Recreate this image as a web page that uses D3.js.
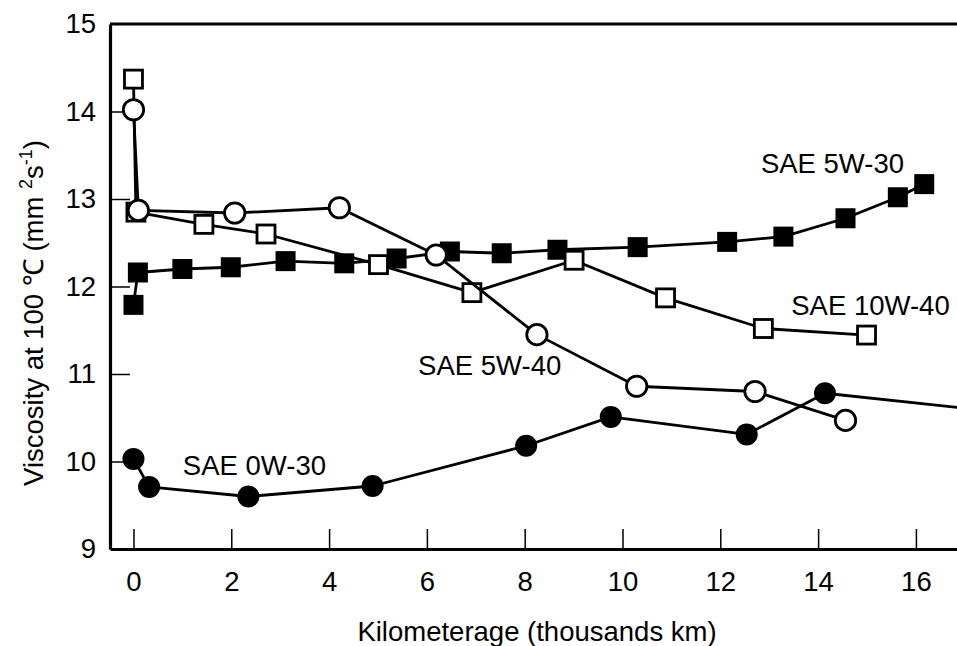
<!DOCTYPE html>
<html>
<head>
<meta charset="utf-8">
<script src="https://cdn.jsdelivr.net/npm/d3@7"></script>
<style>
  html, body { margin: 0; padding: 0; background: #fff; }
  svg { display: block; font-family: "Liberation Sans", Arial, Helvetica, sans-serif; }
</style>
</head>
<body>
<svg id="chart" width="957" height="646"></svg>
<script>
// ---- data (km in thousands, viscosity mm2/s) ----
const xTicks = [0, 2, 4, 6, 8, 10, 12, 14, 16];
const yTicks = [9, 10, 11, 12, 13, 14, 15];

const sae5w30_km  = [0, 0.09, 1.0, 1.99, 3.11, 4.31, 5.38, 6.47, 7.53, 8.67, 10.31, 12.14, 13.29, 14.56, 15.63, 16.17];
const sae5w30_vis = [11.79, 12.16, 12.20, 12.22, 12.29, 12.265, 12.32, 12.40, 12.38, 12.42, 12.45, 12.51, 12.57, 12.78, 13.02, 13.17];

const sae10w40_km  = [0, 0.05, 1.44, 2.71, 5.01, 6.92, 9.01, 10.88, 12.88, 14.99];
const sae10w40_vis = [14.37, 12.85, 12.71, 12.60, 12.25, 11.93, 12.30, 11.87, 11.52, 11.445];

const sae5w40_km  = [0, 0.1, 2.07, 4.21, 6.19, 8.25, 10.29, 12.71, 14.56];
const sae5w40_vis = [14.02, 12.87, 12.84, 12.90, 12.36, 11.45, 10.86, 10.80, 10.47];

const sae0w30_km  = [0, 0.32, 2.35, 4.89, 8.03, 9.76, 12.54, 14.14, 18.0];
const sae0w30_vis = [10.03, 9.71, 9.60, 9.72, 10.18, 10.51, 10.31, 10.78, 10.55];

const seriesNames = ["SAE 5W-30", "SAE 10W-40", "SAE 5W-40", "SAE 0W-30"];

// ---- layout ----
const svg = d3.select("#chart");
const pLeft = 110, pRight = 957, pTop = 24, pBottom = 549;
const x = d3.scaleLinear().domain([-0.48, 16.84]).range([pLeft, pRight]);
const y = d3.scaleLinear().domain([9, 15]).range([pBottom, pTop]);
const FS = 27.5;

const zip = (a, b) => a.map((v, i) => [v, b[i]]);
const series = [
  { name: seriesNames[0], pts: zip(sae5w30_km, sae5w30_vis), shape: "square", fill: "#000", lab: [12.83, 13.30] },
  { name: seriesNames[1], pts: zip(sae10w40_km, sae10w40_vis), shape: "square", fill: "#fff", lab: [13.45, 11.67] },
  { name: seriesNames[2], pts: zip(sae5w40_km, sae5w40_vis), shape: "circle", fill: "#fff", lab: [5.82, 10.99] },
  { name: seriesNames[3], pts: zip(sae0w30_km, sae0w30_vis), shape: "circle", fill: "#000", lab: [1.01, 9.85] }
];

svg.append("defs").append("clipPath").attr("id", "plotclip")
  .append("rect").attr("x", pLeft).attr("y", pTop).attr("width", pRight - pLeft).attr("height", pBottom - pTop);

// ---- axes ----
const xAxis = d3.axisBottom(x).tickValues(xTicks).tickFormat(d3.format("d"))
  .tickSizeInner(-20).tickSizeOuter(0).tickPadding(22);
const gx = svg.append("g").attr("transform", `translate(0,${pBottom})`).call(xAxis);
gx.select(".domain").attr("stroke", "#000").attr("stroke-width", 3.2);
gx.selectAll(".tick line").attr("stroke", "#000").attr("stroke-width", 1.5);
gx.selectAll(".tick text").attr("font-size", FS).attr("fill", "#000").attr("font-family", "Liberation Sans, Arial, sans-serif");

const yAxis = d3.axisLeft(y).tickValues(yTicks).tickFormat(d3.format("d"))
  .tickSizeInner(-20).tickSizeOuter(0).tickPadding(14);
const gy = svg.append("g").attr("transform", `translate(${pLeft},0)`).call(yAxis);
gy.select(".domain").attr("stroke", "#000").attr("stroke-width", 3.2);
gy.selectAll(".tick line").attr("stroke", "#000").attr("stroke-width", 1.5);
gy.selectAll(".tick text").attr("font-size", FS).attr("fill", "#000").attr("font-family", "Liberation Sans, Arial, sans-serif");
gy.selectAll(".tick").filter(d => d === 9 || d === 15).select("line").remove();

// top frame line
svg.append("line").attr("x1", x.range()[0]).attr("x2", x.range()[1])
  .attr("y1", y(15)).attr("y2", y(15)).attr("stroke", "#000").attr("stroke-width", 3.2);

// ---- series ----
const line = d3.line().x(d => x(d[0])).y(d => y(d[1]));
const plot = svg.append("g").attr("clip-path", "url(#plotclip)");

series.forEach(s => {
  const g = plot.append("g");
  g.append("path").datum(s.pts).attr("d", line)
    .attr("fill", "none").attr("stroke", "#000").attr("stroke-width", 2.8).attr("stroke-linejoin", "round");
  if (s.shape === "square") {
    const sz = s.fill === "#000" ? 20 : 18;
    g.selectAll("rect").data(s.pts).join("rect")
      .attr("x", d => x(d[0]) - sz / 2).attr("y", d => y(d[1]) - sz / 2)
      .attr("width", sz).attr("height", sz)
      .attr("fill", s.fill).attr("stroke", "#000").attr("stroke-width", s.fill === "#000" ? 0 : 2.8);
  } else {
    const r = s.fill === "#000" ? 11 : 10.2;
    g.selectAll("circle").data(s.pts).join("circle")
      .attr("cx", d => x(d[0])).attr("cy", d => y(d[1])).attr("r", r)
      .attr("fill", s.fill).attr("stroke", "#000").attr("stroke-width", s.fill === "#000" ? 0 : 2.8);
  }
  svg.append("text").attr("x", x(s.lab[0])).attr("y", y(s.lab[1]))
    .attr("font-size", FS).attr("fill", "#000").text(s.name);
});

// ---- axis titles ----
svg.append("text").attr("x", 537).attr("y", 641).attr("text-anchor", "middle")
  .attr("font-size", FS).attr("fill", "#000").text("Kilometerage (thousands km)");

const yt = svg.append("text").attr("transform", "translate(43,313) rotate(-90)")
  .attr("text-anchor", "middle").attr("font-size", FS).attr("fill", "#000");
yt.append("tspan").text("Viscosity at 100 \u2103 (mm ");
yt.append("tspan").attr("font-size", 18).attr("dy", -11).text("2");
yt.append("tspan").attr("dy", 11).text("s");
yt.append("tspan").attr("font-size", 18).attr("dy", -11).text("-1");
yt.append("tspan").attr("dy", 11).text(")");
</script>
</body>
</html>
